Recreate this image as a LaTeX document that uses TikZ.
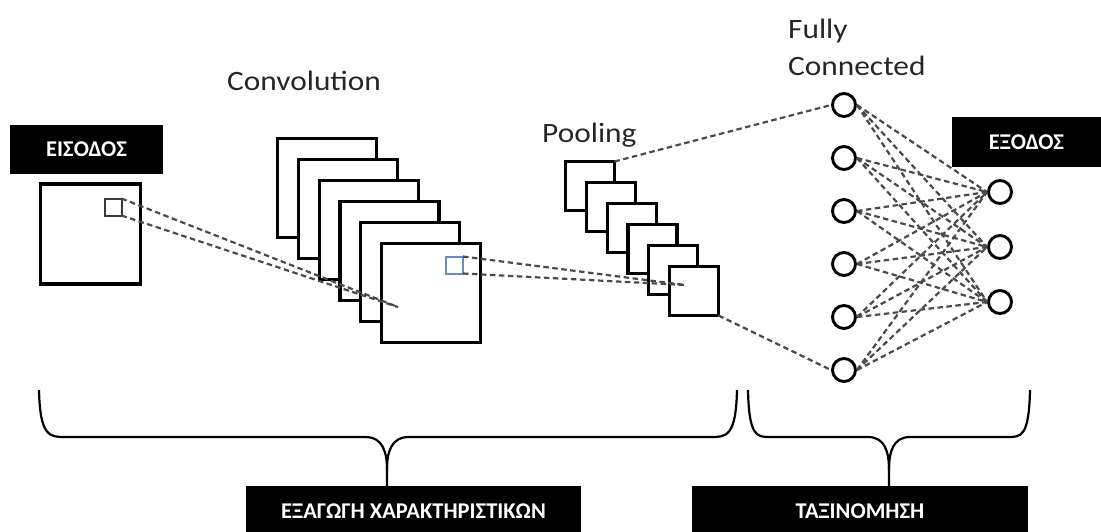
\documentclass[tikz,border=0pt]{standalone}
\usepackage{fontspec}
\setmainfont{Carlito}
\newfontfamily\lblfont[FakeStretch=1.12]{Carlito}
\usetikzlibrary{calc}
\definecolor{dashgray}{HTML}{4A4A4A}
\definecolor{winblue}{HTML}{6A8CC0}
\definecolor{wingray}{HTML}{3A3A3A}

\tikzset{
  fmap/.style={draw, line width=3.2pt, fill=white, minimum size=#1, inner sep=0pt, outer sep=0pt},
  window/.style={draw=#1, line width=2pt, minimum size=17pt, inner sep=0pt, outer sep=0pt},
  neuron/.style={circle, draw, line width=2.9pt, minimum size=23pt, inner sep=0pt, fill=white},
  link/.style={dashgray, line width=2.2pt, dash pattern=on 5.5pt off 3.5pt},
  tag/.style={fill=black, text=white, inner sep=0pt, font=\bfseries\fontsize{22.5}{22.5}\selectfont},
  lbl/.style={inner sep=0pt, text=black!85, font=\lblfont\fontsize{28}{37}\selectfont},
  brace/.style={line width=2.2pt, line join=round}
}

\begin{document}
\begin{tikzpicture}[x=1pt, y=-1pt]
  \useasboundingbox (0,0) rectangle (1101,531);

  % input
  \node[tag, minimum width=153pt, minimum height=49pt] (intag) at (86.5,149.5) {ΕΙΣΟΔΟΣ};
  \node[fmap=100pt] (img) at (90.5,234) {};
  \node[window=wingray] (inwin) at (113,207) {};

  % convolution stack
  \node[lbl, anchor=base west] (convlbl) at (227,90) {Convolution};
  \foreach \i in {1,...,6}
    \node[fmap=99pt] (conv\i) at ({431-(6-\i)*20.8},{293-(6-\i)*21}) {};
  \node[window=winblue] (convwin) at (454.5,265) {};
  \coordinate (convhit) at ($(conv6.center)+(-33,14)$);

  % pooling stack
  \node[lbl, anchor=base west] (poollbl) at (542,142) {Pooling};
  \foreach \i in {1,...,6}
    \node[fmap=49pt] (pool\i) at ({694-(6-\i)*20.8},{291-(6-\i)*21}) {};
  \coordinate (poolhit) at ($(pool6.center)+(-9,-6)$);

  % fully connected + output
  \node[lbl, anchor=north west, align=left] (fclbl) at (788,19) {Fully\\Connected};
  \foreach \i in {1,...,6}
    \node[neuron] (fc\i) at (844,{105+53*(\i-1)}) {};
  \foreach \j in {1,2,3}
    \node[neuron] (out\j) at (1000,{192+55*(\j-1)}) {};
  \node[tag, minimum width=149pt, minimum height=50pt] (outtag) at (1026.5,142) {ΕΞΟΔΟΣ};

  \draw[link] (inwin.north east) -- (convhit);
  \draw[link] (inwin.south east) -- (convhit);
  \draw[link] (convwin.north east) -- (poolhit);
  \draw[link] (convwin.south east) -- (poolhit);
  \draw[link] (pool1.north east) -- (fc1.west);
  \draw[link] (pool6.south east) -- (fc6.west);
  \foreach \i in {1,...,6}
    \foreach \j in {1,2,3}
      \draw[link] (fc\i.east) -- (out\j.west);

  % braces and bottom labels
  \node[tag, minimum width=335pt, minimum height=50pt] (feattag) at (413.5,511) {ΕΞΑΓΩΓΗ ΧΑΡΑΚΤΗΡΙΣΤΙΚΩΝ};
  \node[tag, minimum width=336pt, minimum height=50pt] (clstag) at (860,511) {ΤΑΞΙΝΟΜΗΣΗ};

  \draw[brace] (39,390) .. controls (40,437) and (50,437) .. (65,437) -- (365,437)
    .. controls (383,437) and (387,452) .. (387,470) -- (387,486);
  \draw[brace] (737,390) .. controls (736,437) and (726,437) .. (711,437) -- (409,437)
    .. controls (391,437) and (387,452) .. (387,470);
  \draw[brace] (748,390) .. controls (749,437) and (757,437) .. (770,437) -- (868,437)
    .. controls (885,437) and (889,452) .. (889,470) -- (889,486);
  \draw[brace] (1030,390) .. controls (1029,437) and (1021,437) .. (1008,437) -- (910,437)
    .. controls (893,437) and (889,452) .. (889,470);
\end{tikzpicture}
\end{document}
